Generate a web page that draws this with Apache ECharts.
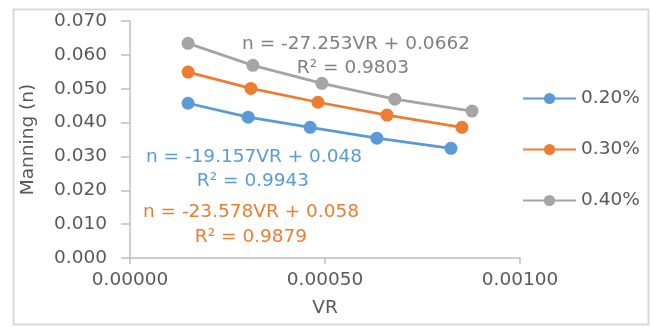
<!DOCTYPE html>
<html><head><meta charset="utf-8">
<script src="https://cdn.jsdelivr.net/npm/echarts@6/dist/echarts.min.js"></script>
<style>html,body{margin:0;padding:0;background:#fff}#c{width:653px;height:327px}</style>
</head><body><div id="c"></div>
<script>
const seriesNames = ['0.20%', '0.30%', '0.40%'];
const vr020 = [0.000149, 0.000303, 0.000462, 0.000633, 0.000823];
const n020  = [0.0457, 0.0416, 0.0386, 0.0354, 0.0324];
const vr030 = [0.000149, 0.000310, 0.000482, 0.000659, 0.000851];
const n030  = [0.0549, 0.0501, 0.0460, 0.0422, 0.0386];
const vr040 = [0.000149, 0.000315, 0.000492, 0.000679, 0.000877];
const n040  = [0.0634, 0.0569, 0.0516, 0.0469, 0.0434];
const colors = ['#5B9BD5', '#ED7D31', '#A5A5A5'];
const eqTexts = [
  ['n = -19.157VR + 0.048', 'R² = 0.9943'],
  ['n = -23.578VR + 0.058', 'R² = 0.9879'],
  ['n = -27.253VR + 0.0662', 'R² = 0.9803']
];
const FONT = '"DejaVu Sans", sans-serif';
const FS = 18.5;
const pair = (xs, ys) => xs.map((x, i) => [x, ys[i]]);
const data = [pair(vr020, n020), pair(vr030, n030), pair(vr040, n040)];

const chart = echarts.init(document.getElementById('c'));
const txt = (x, y, s, color) => ({
  type: 'text', x: x, y: y,
  style: { text: s, fill: color, font: FS + 'px ' + FONT, align: 'center', verticalAlign: 'middle' }
});
chart.setOption({
  animation: false,
  textStyle: { fontFamily: FONT },
  grid: { left: 130, right: 133, top: 21, bottom: 69 },
  xAxis: {
    type: 'value', min: 0, max: 0.001, interval: 0.0005,
    name: 'VR', nameLocation: 'middle', nameGap: 41,
    nameTextStyle: { color: '#595959', fontSize: FS, fontFamily: FONT },
    axisLine: { show: true, lineStyle: { color: '#BFBFBF', width: 1.5 } },
    axisTick: { show: true, length: 6, lineStyle: { color: '#BFBFBF', width: 1.5 } },
    axisLabel: { color: '#595959', fontSize: FS, margin: 13, formatter: v => v.toFixed(5) },
    splitLine: { show: false }
  },
  yAxis: {
    type: 'value', min: 0, max: 0.07, interval: 0.01,
    name: 'Manning (n)', nameLocation: 'middle', nameGap: 92,
    nameTextStyle: { color: '#595959', fontSize: FS, fontFamily: FONT },
    axisLine: { show: true, lineStyle: { color: '#BFBFBF', width: 1.5 } },
    axisTick: { show: true, length: 9, lineStyle: { color: '#BFBFBF', width: 1.5 } },
    axisLabel: { color: '#595959', fontSize: FS, margin: 23, formatter: v => v.toFixed(3) },
    splitLine: { show: false }
  },
  legend: {
    orient: 'vertical', left: 517, top: 84, itemGap: 32,
    itemWidth: 53, itemHeight: 14,
    textStyle: { color: '#595959', fontSize: FS, fontFamily: FONT },
    data: seriesNames
  },
  color: colors,
  series: seriesNames.map((nm, i) => ({
    name: nm, type: 'line', data: data[i],
    symbol: 'circle', symbolSize: 13,
    lineStyle: { width: 2.75, color: colors[i] },
    itemStyle: { color: colors[i] }
  })),
  graphic: [
    { type: 'rect', left: 11, top: 7, shape: { width: 635, height: 315 },
      style: { fill: 'none', stroke: '#D9D9D9', lineWidth: 2 } },
    txt(356, 44, eqTexts[2][0], '#808080'),
    txt(353, 68, eqTexts[2][1], '#808080'),
    txt(254, 157, eqTexts[0][0], colors[0]),
    txt(253, 181, eqTexts[0][1], colors[0]),
    txt(251, 212, eqTexts[1][0], colors[1]),
    txt(251, 237, eqTexts[1][1], colors[1])
  ]
});
</script></body></html>
